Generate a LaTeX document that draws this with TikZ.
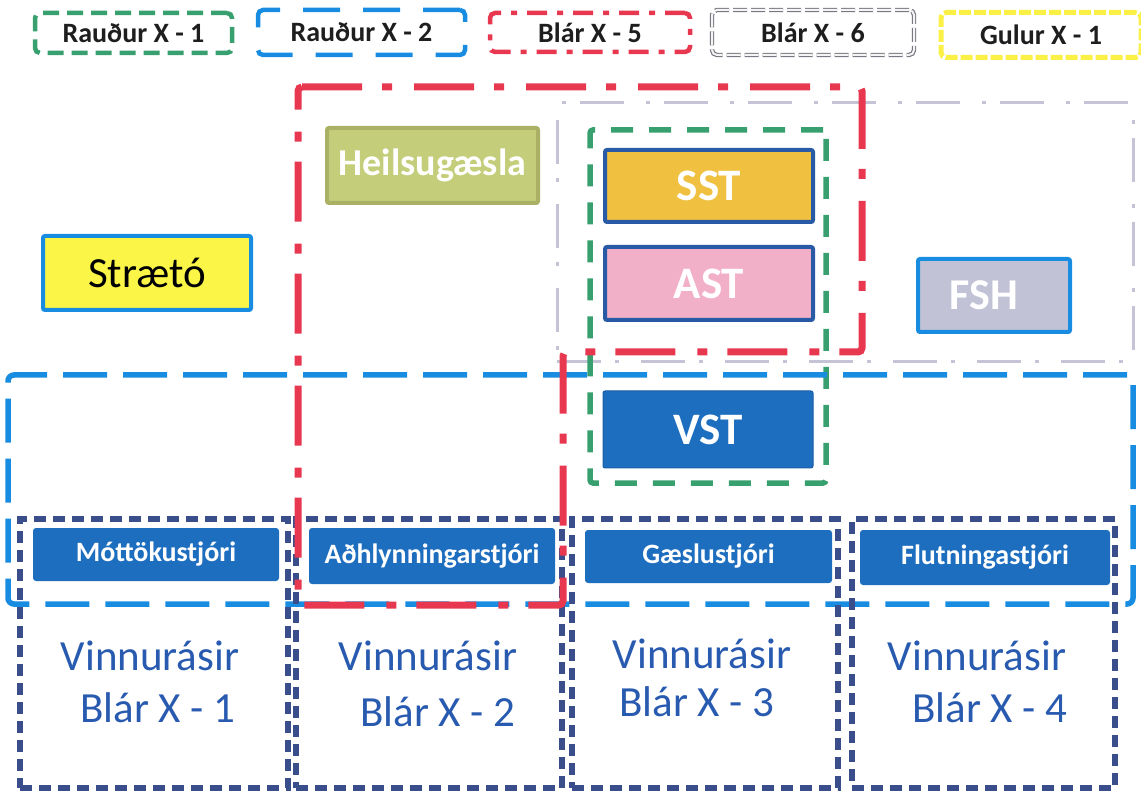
\documentclass[tikz,border=0pt]{standalone}
\usepackage{fontspec}
\setmainfont{Carlito}
\definecolor{redc}{RGB}{232,56,80}
\definecolor{greenc}{RGB}{56,160,110}
\definecolor{bluec}{RGB}{24,140,224}
\definecolor{grayc}{RGB}{196,196,214}
\definecolor{graydk}{RGB}{120,120,130}
\definecolor{navyc}{RGB}{58,78,140}
\definecolor{yellowc}{RGB}{250,240,70}
\definecolor{btnblue}{RGB}{30,110,192}
\definecolor{txtblue}{RGB}{40,90,175}
\definecolor{sstfill}{RGB}{240,192,64}
\definecolor{astfill}{RGB}{242,176,200}
\definecolor{fshfill}{RGB}{194,194,214}
\definecolor{heilfill}{RGB}{196,206,122}
\definecolor{heilbord}{RGB}{170,176,100}
\definecolor{strfill}{RGB}{250,245,70}
\definecolor{boxbord}{RGB}{40,90,165}
\definecolor{legtext}{RGB}{30,30,30}
\begin{document}
\begin{tikzpicture}[x=1pt,y=-1pt,
  leg/.style={text=legtext, font=\fontsize{28}{30}\selectfont\bfseries, inner sep=0pt, rounded corners=5pt},
  region/.style={inner sep=0pt},
  navybox/.style={region, draw=navyc, line width=5.5pt, dash pattern=on 12pt off 7pt, minimum height=269pt},
  btn/.style={fill=btnblue, rounded corners=3pt, text=white, font=\fontsize{28}{30}\selectfont\bfseries, inner sep=0pt},
  bigbox/.style={line width=4pt, rounded corners=2pt, inner sep=0pt, text=white, font=\fontsize{45}{48}\selectfont\bfseries},
  vtext/.style={text=txtblue, font=\fontsize{43}{46}\selectfont, anchor=base, inner sep=0pt}
]
\useasboundingbox (0,0) rectangle (1141,791);

% legend
\node[leg, draw=greenc, line width=4.5pt, dash pattern=on 16pt off 8pt, minimum width=197pt, minimum height=40pt] (l1) at (133.5,33) {Rauður X - 1};
\node[leg, draw=bluec, line width=4.5pt, dash pattern=on 37pt off 23pt, minimum width=207pt, minimum height=45pt] (l2) at (361.5,32.5) {Rauður X - 2};
\node[leg, draw=redc, line width=4.5pt, dash pattern=on 20pt off 10pt on 6pt off 10pt, minimum width=200pt, minimum height=39pt] (l3) at (590,32.5) {Blár X - 5};
\node[leg, draw=graydk, double=white!92!gray, double distance=2pt, line width=1.2pt, dash pattern=on 14pt off 4pt, minimum width=202pt, minimum height=45pt] (l4) at (813,32.5) {Blár X - 6};
\node[leg, draw=yellowc, line width=5pt, dash pattern=on 12pt off 3pt, minimum width=200pt, minimum height=45pt] (l5) at (1041,35) {Gulur X - 1};

% regions
\node[region, draw=grayc, line width=3pt, dash pattern=on 44pt off 14pt on 4pt off 22pt, minimum width=576pt, minimum height=259pt] (r6) at (845,232.5) {};
\node[region, draw=greenc, line width=5.5pt, dash pattern=on 22pt off 16pt, rounded corners=3pt, minimum width=236pt, minimum height=353pt] (r1) at (708,306.5) {};
\node[region, draw=bluec, line width=5.5pt, dash pattern=on 44pt off 16pt, rounded corners=6pt, minimum width=1125pt, minimum height=229pt] (r2) at (570.5,489.5) {};
\node[navybox, minimum width=268pt] (c1) at (154,653.5) {};
\node[navybox, minimum width=266pt] (c2) at (429,653.5) {};
\node[navybox, minimum width=266pt] (c3) at (705,653.5) {};
\node[navybox, minimum width=263pt] (c4) at (983.5,653.5) {};
\draw[redc, line width=7pt, dash pattern=on 60pt off 20pt on 10pt off 22pt, rounded corners=4pt]
  (298,87) -- (862,87) -- (862,352) -- (563,352) -- (563,605) -- (298,605) -- cycle;

% upper boxes
\node[bigbox, draw=bluec, fill=strfill, text=black, font=\fontsize{43}{46}\selectfont, minimum width=208pt, minimum height=74pt] (strato) at (147,273) {Strætó};
\node[bigbox, draw=heilbord, fill=heilfill, font=\fontsize{38}{40}\selectfont\bfseries, minimum width=211pt, minimum height=75pt] (heil) at (432.5,165.5) {Heilsugæsla};
\node[bigbox, draw=boxbord, fill=sstfill, minimum width=208pt, minimum height=72pt] (sst) at (709,186) {SST};
\node[bigbox, draw=boxbord, fill=astfill, minimum width=208pt, minimum height=73pt] (ast) at (709,283.5) {AST};
\node[bigbox, draw=bluec, fill=fshfill, font=\fontsize{44}{46}\selectfont\bfseries, minimum width=152pt, minimum height=73pt] (fsh) at (994,295.5) {FSH\hspace*{20pt}};
\node[bigbox, draw=btnblue!85!black, line width=1pt, fill=btnblue, minimum width=210pt, minimum height=77pt] (vst) at (708,429.5) {VST};

% buttons
\node[btn, minimum width=246pt, minimum height=53pt] (b1) at (156,554.5) {Móttökustjóri};
\node[btn, minimum width=246pt, minimum height=56pt] (b2) at (432,556) {Aðhlynningarstjóri};
\node[btn, minimum width=247pt, minimum height=53pt] (b3) at (708.5,556.5) {Gæslustjóri};
\node[btn, minimum width=250pt, minimum height=55pt] (b4) at (985,557.5) {Flutningastjóri};

% column texts
\node[vtext] (v1) at (150,670) {Vinnurásir};
\node[vtext] (x1) at (158,722) {Blár X - 1};
\node[vtext] (v2) at (428,670) {Vinnurásir};
\node[vtext] (x2) at (438,726) {Blár X - 2};
\node[vtext] (v3) at (702,668) {Vinnurásir};
\node[vtext] (x3) at (697,716) {Blár X - 3};
\node[vtext] (v4) at (977,670) {Vinnurásir};
\node[vtext] (x4) at (990,722) {Blár X - 4};
\end{tikzpicture}
\end{document}
